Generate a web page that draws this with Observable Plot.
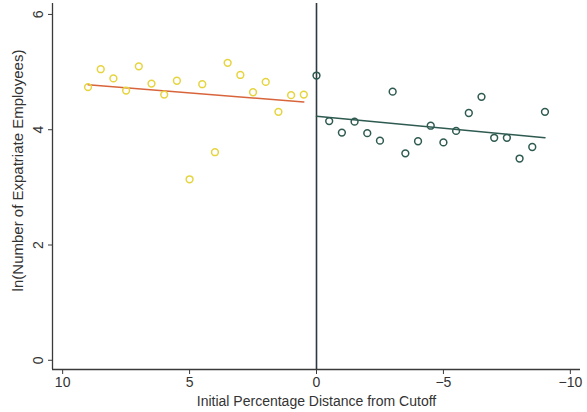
<!DOCTYPE html>
<html>
<head>
<meta charset="utf-8">
<script src="https://cdn.jsdelivr.net/npm/d3@7"></script>
<script src="https://cdn.jsdelivr.net/npm/@observablehq/plot@0.6"></script>
<style>
  html, body { margin: 0; padding: 0; background: #fff; }
  #chart svg { display: block; }
</style>
</head>
<body>
<div id="chart"></div>
<script>
// Left of cutoff (positive distance): yellow points
const leftX = [9, 8.5, 8, 7.5, 7, 6.5, 6, 5.5, 5, 4.5, 4, 3.5, 3, 2.5, 2, 1.5, 1, 0.5];
const leftY = [4.74, 5.05, 4.89, 4.68, 5.10, 4.80, 4.61, 4.85, 3.14, 4.79, 3.61, 5.16, 4.95, 4.65, 4.83, 4.31, 4.60, 4.61];
// Right of cutoff (zero / negative distance): green points
const rightX = [0, -0.5, -1, -1.5, -2, -2.5, -3, -3.5, -4, -4.5, -5, -5.5, -6, -6.5, -7, -7.5, -8, -8.5, -9];
const rightY = [4.94, 4.15, 3.95, 4.14, 3.94, 3.81, 4.66, 3.59, 3.80, 4.07, 3.78, 3.98, 4.29, 4.57, 3.86, 3.86, 3.50, 3.70, 4.31];
const xTicks = [10, 5, 0, -5, -10];
const yTicks = [0, 2, 4, 6];
const cutoff = [0];
const xTitle = "Initial Percentage Distance from Cutoff";
const yTitle = "ln(Number of Expatriate Employees)";

const xDomain = [10.4, -10.4];
const yDomain = [-0.16, 6.19];

const left = leftX.map((x, i) => ({x, y: leftY[i]}));
const right = rightX.map((x, i) => ({x, y: rightY[i]}));

const yellow = "#e6d43e";
const orange = "#d8643c";
const green = "#2e5a50";
const axisColor = "#3a3a3a";

const chart = Plot.plot({
  width: 587,
  height: 412,
  marginLeft: 52,
  marginRight: 7,
  marginTop: 3,
  marginBottom: 43,
  style: {fontFamily: "'Liberation Sans', Arial, sans-serif", fontSize: "14px", color: "#333", background: "#fff"},
  x: {domain: xDomain},
  y: {domain: yDomain},
  marks: [
    Plot.axisX({ticks: xTicks, tickFormat: d => d < 0 ? "\u2212" + Math.abs(d) : String(d), tickSize: 5, tickPadding: 3,
      label: xTitle, labelAnchor: "center", labelArrow: "none", labelOffset: 36, fontSize: 14, stroke: axisColor}),
    Plot.axisY({ticks: yTicks, tickFormat: d => String(d), tickSize: 4, tickPadding: 6, tickRotate: -90,
      label: null, fontSize: 14, stroke: axisColor}),
    Plot.text([yTitle], {text: d => d, frameAnchor: "left", rotate: -90, dx: -34, dy: -16,
      textAnchor: "middle", fontSize: 15, fill: "#333"}),
    Plot.ruleX([xDomain[0]], {stroke: axisColor, strokeWidth: 1.3}),
    Plot.ruleY([yDomain[0]], {stroke: axisColor, strokeWidth: 1.3}),
    Plot.ruleX(cutoff, {stroke: "#2f3a40", strokeWidth: 1.6}),
    Plot.linearRegressionY(left, {x: "x", y: "y", stroke: orange, strokeWidth: 1.5, ci: 0}),
    Plot.linearRegressionY(right, {x: "x", y: "y", stroke: green, strokeWidth: 1.6, ci: 0}),
    Plot.dot(left, {x: "x", y: "y", r: 3.4, stroke: yellow, strokeWidth: 1.5, fill: "none"}),
    Plot.dot(right, {x: "x", y: "y", r: 3.4, stroke: green, strokeWidth: 1.5, fill: "none"})
  ]
});
document.getElementById("chart").appendChild(chart);
</script>
</body>
</html>
